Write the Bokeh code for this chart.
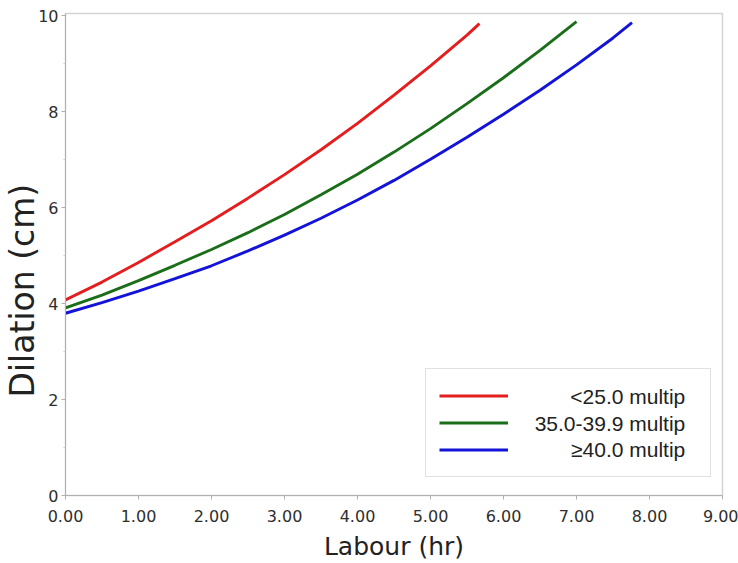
from bokeh.plotting import figure
from bokeh.models import Range1d, FixedTicker, Legend, LegendItem, Title
from bokeh.core.properties import value
from bokeh.embed import file_html
from bokeh.resources import INLINE

# ---- data ----
red_x = [0.0, 0.5, 1.0, 1.5, 2.0, 2.5, 3.0, 3.5, 4.0, 4.5, 5.0, 5.5, 5.67]
red_y = [4.08, 4.45, 4.86, 5.29, 5.73, 6.20, 6.69, 7.21, 7.76, 8.35, 8.96, 9.60, 9.84]

green_x = [0.0, 0.5, 1.0, 1.5, 2.0, 2.5, 3.0, 3.5, 4.0, 4.5, 5.0, 5.5, 6.0, 6.5, 7.0]
green_y = [3.91, 4.18, 4.48, 4.80, 5.13, 5.48, 5.86, 6.27, 6.70, 7.16, 7.65, 8.17, 8.71, 9.28, 9.88]

blue_x = [0.0, 0.5, 1.0, 1.5, 2.0, 2.5, 3.0, 3.5, 4.0, 4.5, 5.0, 5.5, 6.0, 6.5, 7.0, 7.5, 7.76]
blue_y = [3.80, 4.02, 4.26, 4.52, 4.79, 5.10, 5.43, 5.78, 6.16, 6.57, 7.01, 7.47, 7.95, 8.45, 8.98, 9.54, 9.86]

series_labels = ["<25.0 multip", "35.0-39.9 multip", "\u226540.0 multip"]
series_colors = ["#e41e1e", "#1a6e1a", "#1414d8"]

x_ticks = [0, 1, 2, 3, 4, 5, 6, 7, 8, 9]
x_tick_labels = ["0.00", "1.00", "2.00", "3.00", "4.00", "5.00", "6.00", "7.00", "8.00", "9.00"]
y_ticks = [0, 2, 4, 6, 8, 10]
y_minor_ticks = [1, 3, 5, 7, 9]

x_title = "Labour (hr)"
y_title = "Dilation (cm)"

# legend text anchor (right edge of the right-aligned legend labels), in data units
legend_text_x = [8.49, 8.49, 8.49]
legend_text_y = [2.07, 1.51, 0.95]

# ---- figure ----
p = figure(width=738, height=563, output_backend="svg", toolbar_location=None,
           x_range=Range1d(0, 9), y_range=Range1d(0, 10.05),
           min_border_left=65, min_border_right=16, min_border_top=13, min_border_bottom=68)

p.xgrid.visible = False
p.ygrid.visible = False
p.outline_line_color = "#d4d4d4"
p.outline_line_width = 1.5
p.background_fill_color = "white"
p.border_fill_color = "white"

renderers = []
for xs, ys, c in zip([red_x, green_x, blue_x], [red_y, green_y, blue_y], series_colors):
    r = p.line(xs, ys, line_color=c, line_width=2.9)
    renderers.append(r)

# x axis
xa = p.xaxis[0]
xa.ticker = FixedTicker(ticks=x_ticks)
xa.major_label_overrides = {t: l for t, l in zip(x_ticks, x_tick_labels)}
xa.axis_line_color = "#b0b0b0"
xa.major_tick_line_color = "#b0b0b0"
xa.major_tick_out = 4
xa.major_tick_in = 0
xa.minor_tick_out = 0
xa.minor_tick_in = 0
xa.major_label_standoff = 10
xa.major_label_text_font = "DejaVu Sans"
xa.major_label_text_font_size = "16px"
xa.major_label_text_color = "#2e2e2e"
xa.axis_label = x_title
xa.axis_label_text_font = "DejaVu Sans"
xa.axis_label_text_font_size = "25px"
xa.axis_label_text_font_style = "normal"
xa.axis_label_text_color = "#222222"
xa.axis_label_standoff = 7

# y axis
ya = p.yaxis[0]
ya.ticker = FixedTicker(ticks=y_ticks, minor_ticks=y_minor_ticks)
ya.axis_line_color = "#b0b0b0"
ya.major_tick_line_color = "#b0b0b0"
ya.minor_tick_line_color = "#c8c8c8"
ya.major_tick_out = 4
ya.major_tick_in = 0
ya.minor_tick_out = 2
ya.minor_tick_in = 0
ya.major_label_standoff = 3
ya.major_label_text_font = "DejaVu Sans"
ya.major_label_text_font_size = "16px"
ya.major_label_text_color = "#2e2e2e"

# y title as a left-side title, shifted like the reference
p.add_layout(Title(text=y_title, align="left", offset=98, standoff=-13,
                   text_font="DejaVu Sans", text_font_size="33px",
                   text_font_style="normal", text_color="#222222"), "left")

# legend: glyphs + box from Legend, right-aligned texts drawn as text glyphs
items = [LegendItem(label="", renderers=[r]) for r in renderers]
legend = Legend(items=items, location=(360, 18), margin=0, padding=13, spacing=0,
                glyph_width=69, glyph_height=27, label_height=27, label_width=161,
                label_standoff=28, label_text_font_size="21px",
                border_line_color="#c4c4c4", border_line_width=1.5,
                background_fill_alpha=0.0)
p.add_layout(legend)

p.text(x=legend_text_x, y=legend_text_y, text=series_labels,
       text_align="right", text_baseline="middle",
       text_font=value("Liberation Sans"), text_font_size=value("21px"),
       text_color="#222222")

open("out.html", "w").write(file_html(p, INLINE))
